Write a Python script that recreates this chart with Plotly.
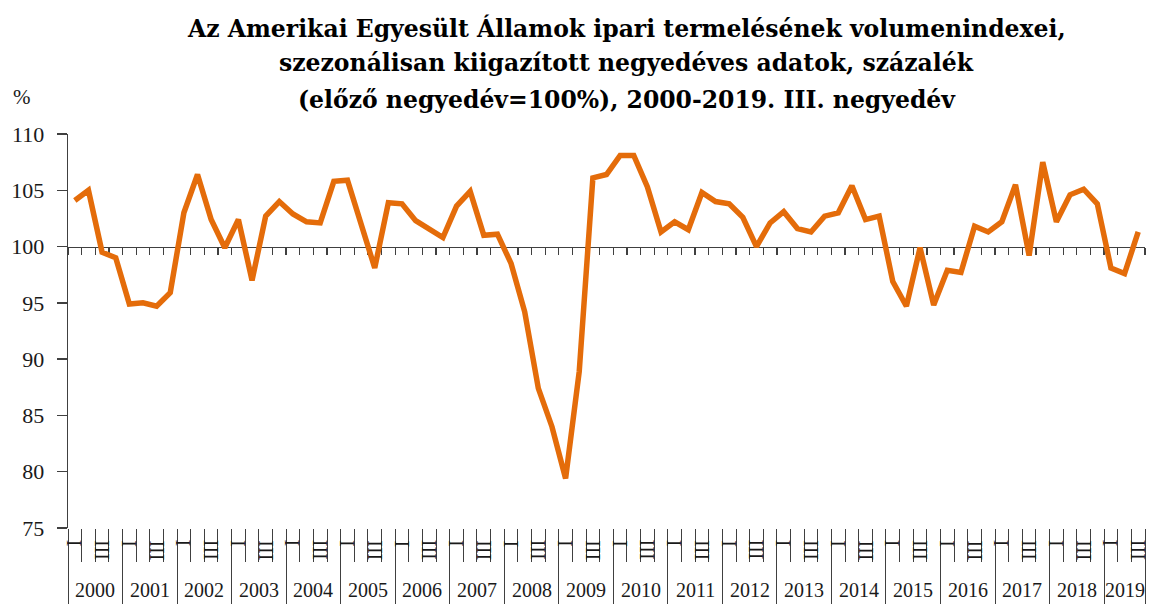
import plotly.graph_objects as go

years = [str(y) for y in range(2000, 2020)]
quarters_per_year = [4] * 19 + [3]
quarter_labels = ["I", "II", "III", "IV"]
shown_quarters = ["I", "III"]

values = [
    104.1, 105.0, 99.5, 99.0,     # 2000
    94.9, 95.0, 94.7, 95.9,       # 2001
    103.0, 106.4, 102.4, 99.9,    # 2002
    102.4, 97.0, 102.7, 104.0,    # 2003
    102.9, 102.2, 102.1, 105.8,   # 2004
    105.9, 102.1, 98.1, 103.9,    # 2005
    103.8, 102.3, 101.5, 100.8,   # 2006
    103.6, 104.9, 101.0, 101.1,   # 2007
    98.5, 94.2, 87.4, 84.0,       # 2008
    79.4, 88.9, 106.1, 106.4,     # 2009
    108.1, 108.1, 105.3, 101.3,   # 2010
    102.2, 101.5, 104.8, 104.0,   # 2011
    103.8, 102.6, 100.0, 102.1,   # 2012
    103.1, 101.6, 101.3, 102.7,   # 2013
    103.0, 105.4, 102.4, 102.7,   # 2014
    96.9, 94.7, 99.9, 94.8,       # 2015
    97.9, 97.7, 101.8, 101.3,     # 2016
    102.2, 105.5, 99.2, 107.5,    # 2017
    102.2, 104.6, 105.1, 103.8,   # 2018
    98.1, 97.6, 101.3,            # 2019
]

title_lines = [
    "Az Amerikai Egyesült Államok ipari termelésének volumenindexei,",
    "szezonálisan kiigazított negyedéves adatok, százalék",
    "(előző negyedév=100%), 2000-2019. III. negyedév",
]
y_unit = "%"
y_min, y_max, y_step = 75, 110, 5
base_value = 100

ORANGE = "#E46C0A"
AXIS = "#404040"
TXT = "#1a1a1a"
SERIF = "Liberation Serif, Times New Roman, serif"
TITLE_FONT = "DejaVu Serif, serif"

n = len(values)
x = list(range(n))
x_range = [-0.5, n - 0.5]

starts = []
s = 0
for q in quarters_per_year:
    starts.append(s)
    s += q
year_bounds = [st - 0.5 for st in starts] + [n - 0.5]
quarter_bounds = [i - 0.5 for i in range(n + 1)]

fig = go.Figure()
fig.add_trace(go.Scatter(x=[0], y=[base_value], xaxis="x", yaxis="y",
                         mode="markers", marker=dict(opacity=0),
                         hoverinfo="skip", showlegend=False))
fig.add_trace(go.Scatter(x=x, y=values, xaxis="x2", yaxis="y",
                         mode="lines", line=dict(color=ORANGE, width=5.5),
                         hoverinfo="skip", showlegend=False))

annotations = []
for i, ln in enumerate(title_lines):
    annotations.append(dict(text="<b>" + ln + "</b>", xref="paper", yref="paper",
                            x=0.519, y=1, yshift=[106, 71, 34][i],
                            xanchor="center", yanchor="middle", showarrow=False,
                            font=dict(family=TITLE_FONT, size=23.5, color="#000")))
annotations.append(dict(text=y_unit, xref="paper", yref="paper", x=-0.043, y=1,
                        yshift=37, xanchor="center", yanchor="middle", showarrow=False,
                        font=dict(family=SERIF, size=21, color=TXT)))
for yi, (yr, st, q) in enumerate(zip(years, starts, quarters_per_year)):
    annotations.append(dict(text=yr, xref="x", yref="paper", x=st + (q - 1) / 2, y=0,
                            yshift=-62, xanchor="center", yanchor="middle",
                            showarrow=False,
                            font=dict(family=SERIF, size=20, color=TXT)))
    for qi in range(q):
        lab = quarter_labels[qi]
        if lab in shown_quarters:
            annotations.append(dict(text=lab, xref="x", yref="paper", x=st + qi, y=0,
                                    yshift=-11, xanchor="center", yanchor="top",
                                    textangle=90, showarrow=False, borderpad=0,
                                    font=dict(family=SERIF, size=20, color=TXT)))

fig.update_layout(
    width=1149, height=604,
    margin=dict(l=68, r=4, t=134, b=76),
    paper_bgcolor="white", plot_bgcolor="white",
    showlegend=False, hovermode=False,
    annotations=annotations,
    xaxis=dict(range=x_range, showgrid=False, zeroline=False, showline=False,
               showticklabels=False, ticks="outside", tickmode="array",
               tickvals=year_bounds, ticklen=76, tickwidth=1, tickcolor=AXIS,
               minor=dict(tickmode="array", tickvals=quarter_bounds, ticks="outside",
                          ticklen=33, tickwidth=1, tickcolor=AXIS),
               automargin=False, fixedrange=True),
    xaxis2=dict(range=x_range, overlaying="x", anchor="free",
                position=(base_value - y_min) / (y_max - y_min), side="bottom",
                showgrid=False, zeroline=False, showline=True, linecolor=AXIS,
                linewidth=1.3, showticklabels=False, ticks="outside",
                tickmode="array", tickvals=quarter_bounds, ticklen=7, tickwidth=1.3,
                tickcolor=AXIS, layer="below traces", automargin=False),
    yaxis=dict(range=[y_min, y_max], tick0=y_min, dtick=y_step, showgrid=False,
               zeroline=False, showline=True, linecolor=AXIS, linewidth=1.3,
               ticks="outside", ticklen=10, tickwidth=1.3, tickcolor=AXIS,
               ticklabelstandoff=8,
               tickfont=dict(family=SERIF, size=22, color=TXT), automargin=False),
)

fig.write_html("out.html", config={"displayModeBar": False, "staticPlot": True},
               post_script="document.body.style.margin='0';document.body.style.overflow='hidden';")
